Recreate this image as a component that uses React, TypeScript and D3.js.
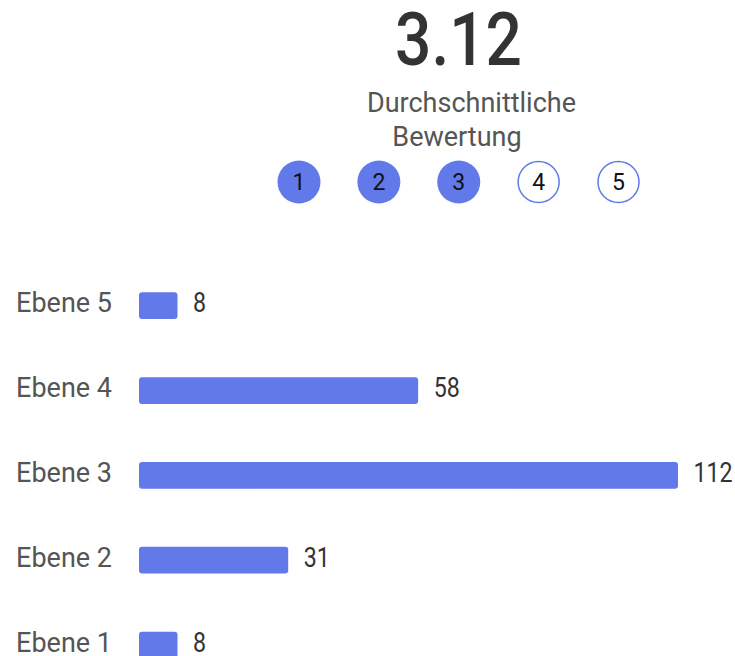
import React from "react";
import * as d3 from "d3";

const categories = ["Ebene 5", "Ebene 4", "Ebene 3", "Ebene 2", "Ebene 1"];
const counts = [8, 58, 112, 31, 8];
const ratingSteps = [1, 2, 3, 4, 5];
const averageRating = 3.12;
const titleLines = ["Durchschnittliche", "Bewertung"];

const W = 735;
const H = 656;
const BLUE = "#6279ea";
const FONT = "Roboto, 'Noto Sans', sans-serif";

export default function App() {
  const x = d3.scaleLinear().domain([0, d3.max(counts) as number]).range([139, 678]);
  const y = d3.scalePoint<string>().domain(categories).range([305.7, 645]);
  const cx = d3.scalePoint<number>().domain(ratingSteps).range([299, 618.5]);
  const barH = 26.7;
  const filled = Math.floor(averageRating);

  return (
    <svg
      width={W}
      height={H}
      style={{ position: "absolute", left: 0, top: 0, fontFamily: FONT }}
    >
      <rect width={W} height={H} fill="#fff" />
      <text
        x={458.5}
        y={65}
        textAnchor="middle"
        fontSize={74}
        fontWeight={500}
        fill="#333"
        textLength={127}
        lengthAdjust="spacingAndGlyphs"
      >
        {averageRating.toFixed(2)}
      </text>
      <text x={471.5} y={112} textAnchor="middle" fontSize={27} fill="#555">
        {titleLines[0]}
      </text>
      <text x={457} y={146} textAnchor="middle" fontSize={27} fill="#555">
        {titleLines[1]}
      </text>
      {ratingSteps.map((s) => (
        <g key={s}>
          <circle
            cx={cx(s)}
            cy={182}
            r={s <= filled ? 21.5 : 20.5}
            fill={s <= filled ? BLUE : "#fff"}
            stroke={BLUE}
            strokeWidth={s <= filled ? 0 : 1.5}
          />
          <text
            x={cx(s)}
            y={190}
            textAnchor="middle"
            fontSize={23}
            fill="#111"
          >
            {s}
          </text>
        </g>
      ))}
      {categories.map((c, i) => {
        const yc = y(c) as number;
        return (
          <g key={c}>
            <text x={112} y={yc + 6.5} textAnchor="end" fontSize={27} fill="#555">
              {c}
            </text>
            <rect
              x={x(0)}
              y={yc - barH / 2}
              width={x(counts[i]) - x(0)}
              height={barH}
              rx={3}
              fill={BLUE}
            />
            <text
              transform={`translate(${x(counts[i]) + 15.5},${yc + 6.5}) scale(0.86,1)`}
              fontSize={27}
              fill="#333"
            >
              {counts[i]}
            </text>
          </g>
        );
      })}
    </svg>
  );
}
